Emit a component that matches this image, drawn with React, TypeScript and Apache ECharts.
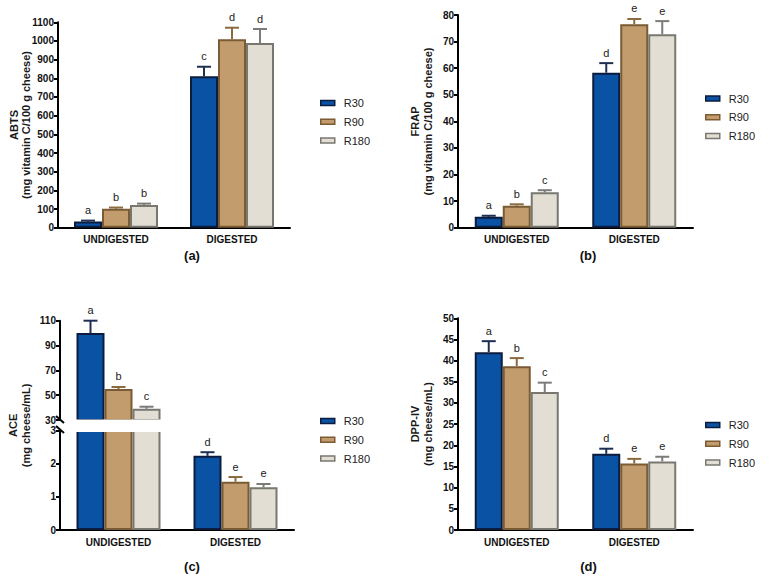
import React, { useEffect, useRef } from "react";
import * as echarts from "echarts";

const categories = ["UNDIGESTED", "DIGESTED"];
const seriesNames = ["R30", "R90", "R180"];

// (a) ABTS (mg vitamin C/100 g cheese)
const abtsR30 = [33, 811];
const abtsR90 = [102, 1009];
const abtsR180 = [121, 989];
const abtsErrR30 = [5, 51];
const abtsErrR90 = [6, 62];
const abtsErrR180 = [8, 75];
const abtsLetR30 = ["a", "c"];
const abtsLetR90 = ["b", "d"];
const abtsLetR180 = ["b", "d"];
const abtsTicks = { min: 0, max: 1100, interval: 100 };

// (b) FRAP (mg vitamin C/100 g cheese)
const frapR30 = [4.1, 58.3];
const frapR90 = [8.3, 76.5];
const frapR180 = [13.3, 72.8];
const frapErrR30 = [0.4, 3.6];
const frapErrR90 = [0.5, 2.0];
const frapErrR180 = [0.8, 4.9];
const frapLetR30 = ["a", "d"];
const frapLetR90 = ["b", "e"];
const frapLetR180 = ["c", "e"];
const frapTicks = { min: 0, max: 80, interval: 10 };

// (c) ACE (mg cheese/mL) - broken axis
const aceR30 = [100, 2.24];
const aceR90 = [55, 1.46];
const aceR180 = [39, 1.29];
const aceErrR30 = [10, 0.11];
const aceErrR90 = [1.6, 0.14];
const aceErrR180 = [1.7, 0.1];
const aceLetR30 = ["a", "d"];
const aceLetR90 = ["b", "e"];
const aceLetR180 = ["c", "e"];
const aceUpperTicks = { min: 30, max: 110, interval: 20 };
const aceLowerTicks = { min: 0, max: 3, interval: 1 };

// (d) DPP-IV (mg cheese/mL)
const dppR30 = [42.0, 18.0];
const dppR90 = [38.7, 15.7];
const dppR180 = [32.6, 16.2];
const dppErrR30 = [2.6, 1.2];
const dppErrR90 = [1.9, 1.1];
const dppErrR180 = [2.2, 1.1];
const dppLetR30 = ["a", "d"];
const dppLetR90 = ["b", "e"];
const dppLetR180 = ["c", "e"];
const dppTicks = { min: 0, max: 50, interval: 5 };

const FONT = '"Liberation Sans", Arial, sans-serif';
const fills = ["#0a52a3", "#c29c6c", "#e2ded3"];
const borders = ["#0c1c3e", "#7a5b33", "#787770"];
const errColors = ["#1f2f52", "#8a6a3e", "#7b7b78"];
const BAR_W = 28;

type Panel = {
  vals: number[][];
  errs: number[][];
  lets: string[][];
  grids: { index: number; ticks: { min: number; max: number; interval: number }; showX: boolean }[];
};

const panels: Panel[] = [
  {
    vals: [abtsR30, abtsR90, abtsR180],
    errs: [abtsErrR30, abtsErrR90, abtsErrR180],
    lets: [abtsLetR30, abtsLetR90, abtsLetR180],
    grids: [{ index: 0, ticks: abtsTicks, showX: true }],
  },
  {
    vals: [frapR30, frapR90, frapR180],
    errs: [frapErrR30, frapErrR90, frapErrR180],
    lets: [frapLetR30, frapLetR90, frapLetR180],
    grids: [{ index: 1, ticks: frapTicks, showX: true }],
  },
  {
    vals: [aceR30, aceR90, aceR180],
    errs: [aceErrR30, aceErrR90, aceErrR180],
    lets: [aceLetR30, aceLetR90, aceLetR180],
    grids: [
      { index: 2, ticks: aceUpperTicks, showX: false },
      { index: 3, ticks: aceLowerTicks, showX: true },
    ],
  },
  {
    vals: [dppR30, dppR90, dppR180],
    errs: [dppErrR30, dppErrR90, dppErrR180],
    lets: [dppLetR30, dppLetR90, dppLetR180],
    grids: [{ index: 4, ticks: dppTicks, showX: true }],
  },
];

const gridBoxes = [
  { left: 58, top: 22.3, width: 232, height: 205.4 },
  { left: 458, top: 15, width: 235, height: 212.7 },
  { left: 60, top: 320.7, width: 234, height: 99.3 },
  { left: 60, top: 430.7, width: 234, height: 99.3 },
  { left: 458, top: 318.3, width: 235, height: 211.7 },
];

function buildOption() {
  const xAxes: any[] = [];
  const yAxes: any[] = [];
  const series: any[] = [];
  const gridTicks: any[] = [];
  panels.forEach((p) => p.grids.forEach((g) => (gridTicks[g.index] = g)));

  gridBoxes.forEach((_, gi) => {
    const g = gridTicks[gi];
    xAxes.push({
      type: "category",
      gridIndex: gi,
      data: categories,
      show: g.showX,
      axisLine: { lineStyle: { color: "#000", width: 2 } },
      axisTick: { alignWithLabel: true, length: 5, lineStyle: { color: "#000", width: 2 } },
      axisLabel: { fontFamily: FONT, fontWeight: "bold", fontSize: 10, color: "#111", margin: 7 },
    });
    yAxes.push({
      type: "value",
      gridIndex: gi,
      min: g.ticks.min,
      max: g.ticks.max,
      interval: g.ticks.interval,
      axisLine: { show: true, lineStyle: { color: "#000", width: 2 } },
      axisTick: { show: true, length: 4, lineStyle: { color: "#000", width: 2 } },
      axisLabel: {
        fontFamily: FONT,
        fontWeight: "bold",
        fontSize: 10,
        color: "#111",
        margin: 4,
        formatter: (v: number) => String(v),
      },
      splitLine: { show: false },
    });
  });

  panels.forEach((p, pi) => {
    p.grids.forEach((g) => {
      const lo = g.ticks.min;
      const hi = g.ticks.max;
      p.vals.forEach((vals, k) => {
        series.push({
          type: "bar",
          name: seriesNames[k],
          xAxisIndex: g.index,
          yAxisIndex: g.index,
          barWidth: BAR_W,
          barGap: "0%",
          clip: true,
          data: vals.map((v) => (v >= lo ? v : "-")),
          itemStyle: { color: fills[k], borderColor: borders[k], borderWidth: 2 },
          z: 2,
        });
        const errs = p.errs[k];
        const lets = p.lets[k];
        series.push({
          type: "custom",
          name: "err" + pi + "_" + g.index + "_" + k,
          xAxisIndex: g.index,
          yAxisIndex: g.index,
          z: 3,
          clip: false,
          data: vals.map((v, i) => [i, v]),
          renderItem: (params: any, api: any) => {
            const i = params.dataIndex;
            const v = vals[i];
            const e = errs[i];
            if (v < lo || v + e > hi) return null;
            const p0 = api.coord([i, v]);
            const p1 = api.coord([i, v + e]);
            const x = p0[0] + (k - 1) * BAR_W;
            return {
              type: "group",
              children: [
                { type: "line", shape: { x1: x, y1: p0[1], x2: x, y2: p1[1] }, style: { stroke: errColors[k], lineWidth: 2 } },
                { type: "line", shape: { x1: x - 7, y1: p1[1], x2: x + 7, y2: p1[1] }, style: { stroke: errColors[k], lineWidth: 2 } },
                {
                  type: "text",
                  x: x,
                  y: p1[1] - 5,
                  style: { text: lets[i], align: "center", verticalAlign: "bottom", font: "11px " + FONT, fill: "#222" },
                },
              ],
            };
          },
        });
      });
    });
  });

  const legendBase = {
    orient: "vertical",
    icon: "rect",
    padding: 0,
    itemWidth: 14,
    itemHeight: 5,
    itemGap: 6.8,
    data: seriesNames,
    selectedMode: false,
    itemStyle: { borderWidth: 1.5 },
    textStyle: { fontFamily: FONT, fontSize: 11, color: "#222", lineHeight: 12, padding: [0, 0, 0, 4] },
  };
  const legends = [
    { ...legendBase, left: 320, top: 97 },
    { ...legendBase, left: 705, top: 92.5 },
    { ...legendBase, left: 320, top: 415 },
    { ...legendBase, left: 705, top: 419 },
  ];

  const yName = (x: number, y: number, text: string) => ({
    type: "text",
    x,
    y,
    rotation: Math.PI / 2,
    z: 50,
    style: { text, align: "center", verticalAlign: "middle", font: "bold 11px " + FONT, lineHeight: 12.5, fill: "#1a1a1a" },
  });
  const panelLabel = (x: number, y: number, text: string) => ({
    type: "text",
    x,
    y,
    z: 50,
    style: { text, align: "center", verticalAlign: "middle", font: "bold 13px " + FONT, fill: "#111" },
  });

  const graphic = [
    yName(20, 125, "ABTS\n(mg vitamin C/100 g cheese)"),
    yName(421.5, 121.5, "FRAP\n(mg vitamin C/100 g cheese)"),
    yName(19.5, 425.4, "ACE\n(mg cheese/mL)"),
    yName(421.5, 424, "DPP-IV\n(mg cheese/mL)"),
    panelLabel(192, 255, "(a)"),
    panelLabel(588, 255, "(b)"),
    panelLabel(192, 566, "(c)"),
    panelLabel(588.5, 566, "(d)"),
    { type: "rect", z: 100, shape: { x: 62, y: 419.5, width: 110, height: 12.5 }, style: { fill: "#fff" } },
    { type: "line", z: 101, shape: { x1: 56, y1: 416, x2: 64, y2: 423 }, style: { stroke: "#000", lineWidth: 2 } },
    { type: "line", z: 101, shape: { x1: 56, y1: 426, x2: 64, y2: 433 }, style: { stroke: "#000", lineWidth: 2 } },
  ];

  return {
    animation: false,
    backgroundColor: "#fff",
    grid: gridBoxes.map((b) => ({ ...b, containLabel: false })),
    xAxis: xAxes,
    yAxis: yAxes,
    legend: legends,
    series,
    graphic,
  };
}

export default function App() {
  const ref = useRef<HTMLDivElement>(null);
  useEffect(() => {
    if (!ref.current) return;
    const chart = echarts.init(ref.current, undefined, { renderer: "svg" });
    chart.setOption(buildOption() as any);
    return () => chart.dispose();
  }, []);
  return <div ref={ref} style={{ position: "fixed", left: 0, top: 0, width: 778, height: 576 }} />;
}
